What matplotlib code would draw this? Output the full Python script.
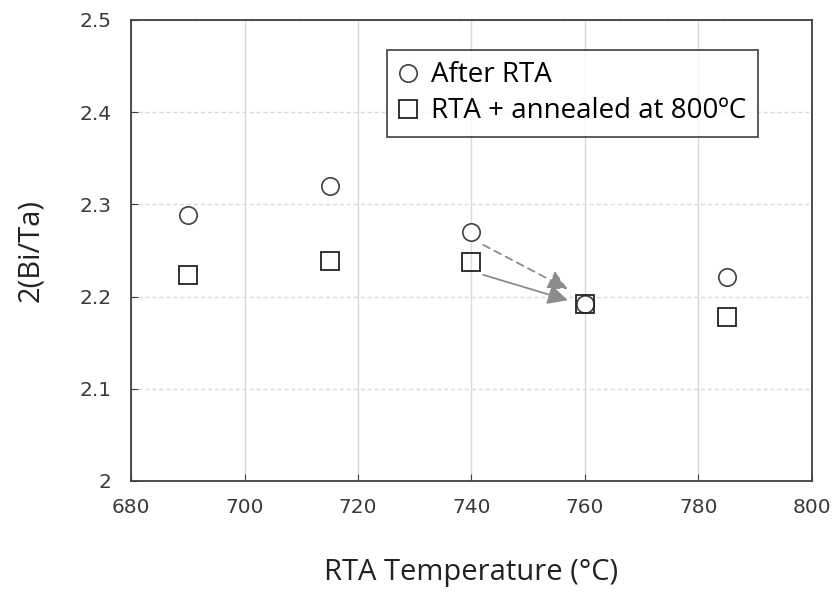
import matplotlib.pyplot as plt

# data
temps = [690, 715, 740, 760, 785]
after_rta = [2.288, 2.320, 2.270, 2.192, 2.221]
annealed = [2.223, 2.238, 2.237, 2.192, 2.178]

x_ticks = [680, 700, 720, 740, 760, 780, 800]
y_ticks = [2.0, 2.1, 2.2, 2.3, 2.4, 2.5]
y_tick_labels = ["2", "2.1", "2.2", "2.3", "2.4", "2.5"]

dark = "#404040"

fig = plt.figure(figsize=(8.35, 5.92), dpi=100)
ax = fig.add_axes([0.157, 0.1875, 0.815, 0.779])

ax.plot(temps, after_rta, linestyle="none", marker="o", markersize=12.5,
        markerfacecolor="white", markeredgecolor=dark, markeredgewidth=1.2,
        label="After RTA", zorder=3)
ax.plot(temps, annealed, linestyle="none", marker="s", markersize=12.5,
        markerfacecolor="none", markeredgecolor="#222222", markeredgewidth=1.3,
        label="RTA + annealed at 800ºC", zorder=4)

# arrows showing the shift of the 740 point
head = "-|>,head_length=1.2,head_width=0.6"
ax.annotate("", xy=(757.0, 2.208), xytext=(742.1, 2.256),
            arrowprops=dict(arrowstyle=head, color="#8c8c8c", lw=1.3,
                            linestyle=(0, (4, 3)), shrinkA=0, shrinkB=0))
ax.annotate("", xy=(757.0, 2.196), xytext=(742.1, 2.2235),
            arrowprops=dict(arrowstyle=head, color="#8c8c8c", lw=1.3,
                            shrinkA=0, shrinkB=0))

ax.set_xlim(680, 800)
ax.set_ylim(2.0, 2.5)
ax.set_xticks(x_ticks)
ax.set_yticks(y_ticks)
ax.set_yticklabels(y_tick_labels)

ax.xaxis.grid(True, color="#d9d9d9", linewidth=1.0, linestyle="-")
ax.yaxis.grid(True, color="#d9d9d9", linewidth=1.0, linestyle=(0, (3, 2)))
ax.set_axisbelow(True)

for s in ax.spines.values():
    s.set_color(dark)
    s.set_linewidth(1.3)

ax.tick_params(direction="in", length=5, color=dark, labelsize=14.5,
               labelcolor="#3a3a3a", pad=14)
ax.tick_params(axis="x", pad=12)
for lbl in ax.get_xticklabels() + ax.get_yticklabels():
    lbl.set_family("DejaVu Sans")

ax.set_xlabel("RTA Temperature (°C)", fontsize=21, family="Open Sans",
              color="#222222", labelpad=30)
ax.set_ylabel("2(Bi/Ta)", fontsize=21, family="Open Sans",
              color="#222222", labelpad=25)

leg = ax.legend(loc="upper left", bbox_to_anchor=(0.376, 0.935),
                borderaxespad=0,
                prop={"family": "Open Sans", "size": 20}, frameon=True,
                fancybox=False, edgecolor="#222222", handlelength=0.7,
                handletextpad=0.45, borderpad=0.42, labelspacing=0.28,
                markerscale=1.0)
leg.get_frame().set_linewidth(1.3)

fig.savefig("out.png", dpi=100)
